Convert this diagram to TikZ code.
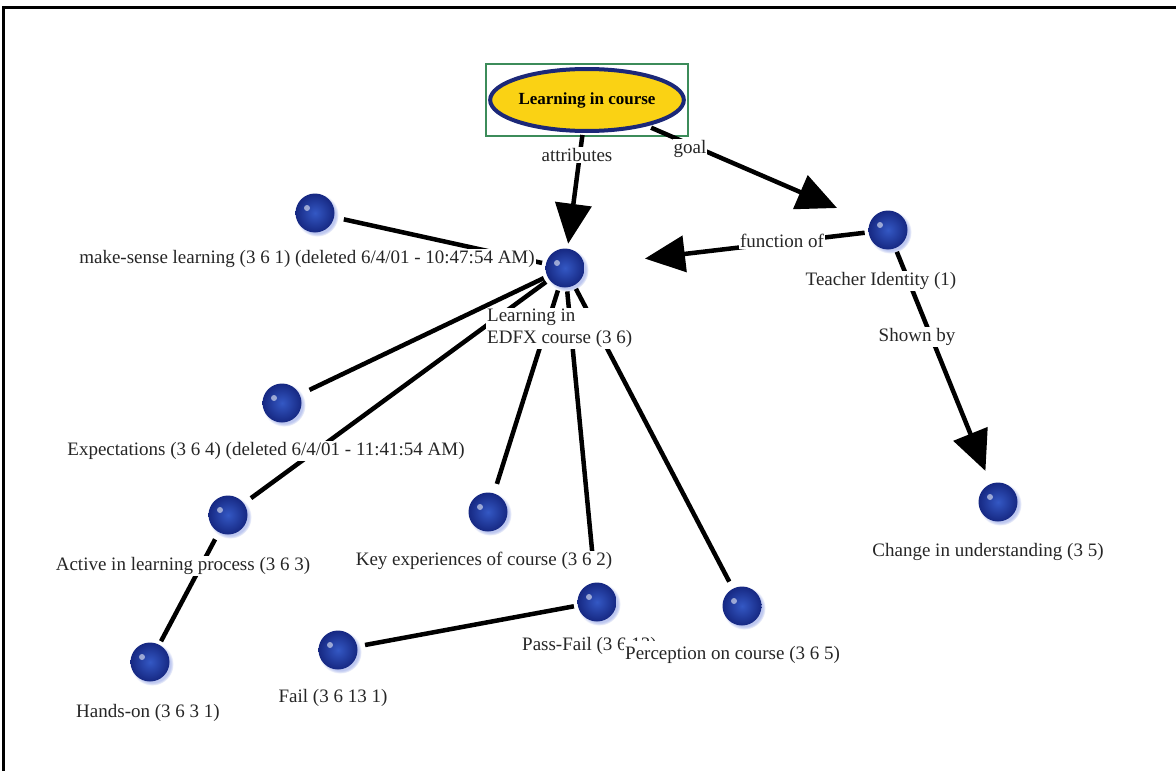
\documentclass[tikz,border=0pt]{standalone}
\usepackage{fontspec}
\setmainfont{Liberation Serif}
\usetikzlibrary{arrows.meta,shapes.geometric,shadows,calc}
\definecolor{ballblue}{RGB}{34,62,168}
\definecolor{ballin}{RGB}{52,88,196}
\definecolor{ballout}{RGB}{22,40,130}
\definecolor{halo}{RGB}{190,200,240}
\definecolor{rootyellow}{RGB}{250,210,20}
\definecolor{rootnavy}{RGB}{28,40,120}
\definecolor{boxgreen}{RGB}{60,140,90}
\tikzset{
  ball/.style={circle, minimum size=39pt, inner sep=0pt, outer sep=0pt,
    shading=radial, inner color=ballin, outer color=ballout,
    circular drop shadow={shadow xshift=2pt, shadow yshift=-2pt, fill=halo, opacity=1},
    path picture={\fill[white,opacity=.55] ($(path picture bounding box.center)+(-8pt,5pt)$) circle (3pt);}},
  lab/.style={fill=white, inner sep=1pt, font=\fontsize{19}{22}\selectfont, text=black!85},
  elab/.style={lab},
  link/.style={line width=4.5pt, black},
  arr/.style={link, -{Triangle[length=40pt,width=36pt]}},
}
\begin{document}
\begin{tikzpicture}[x=1pt,y=-1pt]
\useasboundingbox (0,0) rectangle (1176,771);
\fill[white] (0,0) rectangle (1176,771);
% frame
\draw[line width=3pt] (3,771) -- (3,7) -- (1176,7);
% root
\node[draw=boxgreen, line width=2pt, minimum width=202pt, minimum height=72pt, inner sep=0pt] (rootbox) at (587,100) {};
\node[ellipse, draw=rootnavy, line width=4pt, fill=rootyellow, minimum width=192pt, minimum height=62pt, inner sep=0pt,
  font=\fontsize{17}{20}\selectfont\bfseries] (root) at (587,100) {Learning in course};
% balls
\node[ball] (ms) at (315,213) {};
\node[ball] (c) at (565,268) {};
\node[ball] (t) at (888,230) {};
\node[ball] (ex) at (282,403) {};
\node[ball] (act) at (228,515) {};
\node[ball] (key) at (488,512) {};
\node[ball] (pf) at (597,602) {};
\node[ball] (per) at (742,606) {};
\node[ball] (fail) at (338,650) {};
\node[ball] (hands) at (150,662) {};
\node[ball] (chg) at (998,502) {};
% edges
\draw[arr, shorten <=2pt, shorten >=5pt] (root) -- (c);
\draw[arr, shorten <=4pt, shorten >=36pt] (root) -- (t);
\draw[arr, shorten <=4pt, shorten >=61pt] (t) -- (c);
\draw[arr, shorten <=4pt, shorten >=14pt] (t) -- (chg);
\draw[link, shorten <=10pt, shorten >=4pt] (ms) -- (c);
\draw[link, shorten <=4pt, shorten >=11pt] (c) -- (ex);
\draw[link, shorten <=4pt, shorten >=9pt] (c) -- (act);
\draw[link, shorten <=4pt, shorten >=10pt] (c) -- (key);
\draw[link, shorten <=4pt, shorten >=14pt] (c) -- (pf);
\draw[link, shorten <=4pt, shorten >=8pt] (c) -- (per);
\draw[link, shorten <=4pt, shorten >=8pt] (pf) -- (fail);
\draw[link, shorten <=8pt, shorten >=4pt] (act) -- (hands);
% edge labels
\node[elab] (la) at (577,155) {attributes};
\node[elab] (lg) at (690,149) {goal};
\node[elab] (lf) at (782,241) {function of};
\node[elab] (ls) at (917,337) {Shown by};
% node labels
\node[lab] (msl) at (307,259) {make-sense learning (3 6 1) (deleted 6/4/01 - 10:47:54 AM)};
\node[lab, align=left, anchor=north west] (cl) at (486,308) {Learning in\\EDFX course (3 6)};
\node[lab] (tl) at (881,281) {Teacher Identity (1)};
\node[lab] (exl) at (266,451) {Expectations (3 6 4) (deleted 6/4/01 - 11:41:54 AM)};
\node[lab] (actl) at (183,566) {Active in learning process (3 6 3)};
\node[lab] (keyl) at (484,561) {Key experiences of course (3 6 2)};
\node[lab, anchor=west] (pfl) at (521,646) {Pass-Fail (3 6 13)};
\node[lab, anchor=west, inner ysep=5pt] (perl) at (624,655) {Perception on course (3 6 5)};
\node[lab] (faill) at (333,698) {Fail (3 6 13 1)};
\node[lab] (handsl) at (148,713) {Hands-on (3 6 3 1)};
\node[lab] (chgl) at (988,552) {Change in understanding (3 5)};
\end{tikzpicture}
\end{document}
